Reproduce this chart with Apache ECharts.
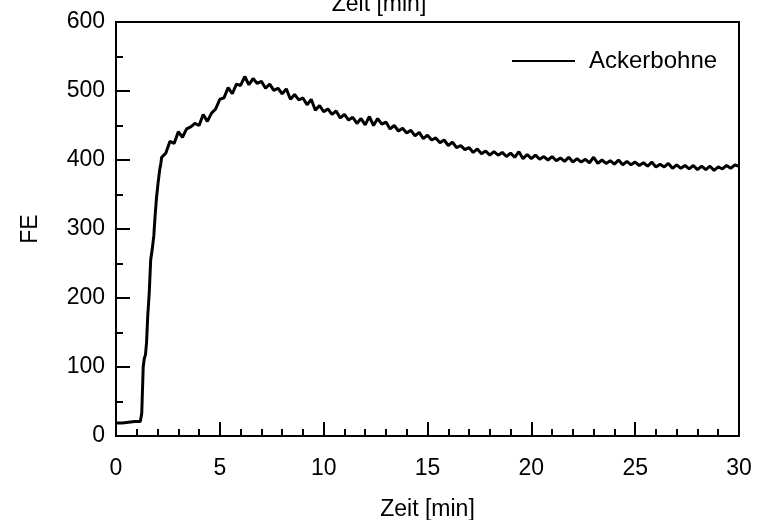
<!DOCTYPE html>
<html>
<head>
<meta charset="utf-8">
<script src="https://cdn.jsdelivr.net/npm/echarts@6/dist/echarts.min.js"></script>
<style>
  html, body { margin: 0; padding: 0; background: #fff; }
  #chart { width: 758px; height: 520px; }
</style>
</head>
<body>
<div id="chart"></div>
<script>
// Zeit [min]
var zeit = [
    0, 0.3, 0.6, 0.9, 1.17, 1.24, 1.31, 1.36, 1.42, 1.47, 1.53, 1.6, 1.67, 1.75, 1.82, 1.88, 1.95, 2.02, 2.1, 2.16,
    2.2, 2.4, 2.6, 2.8, 3.0, 3.2, 3.4, 3.6, 3.8, 4.0, 4.2, 4.4, 4.6, 4.8, 5.0, 5.2, 5.4, 5.6, 5.8, 6.0,
    6.2, 6.4, 6.6, 6.8, 7.0, 7.2, 7.4, 7.6, 7.8, 8.0, 8.2, 8.4, 8.6, 8.8, 9.0, 9.2, 9.4, 9.6, 9.8, 10.0,
    10.2, 10.4, 10.6, 10.8, 11.0, 11.2, 11.4, 11.6, 11.8, 12.0, 12.2, 12.4, 12.6, 12.8, 13.0, 13.2, 13.4, 13.6, 13.8, 14.0,
    14.2, 14.4, 14.6, 14.8, 15.0, 15.2, 15.4, 15.6, 15.8, 16.0, 16.2, 16.4, 16.6, 16.8, 17.0, 17.2, 17.4, 17.6, 17.8, 18.0,
    18.2, 18.4, 18.6, 18.8, 19.0, 19.2, 19.4, 19.6, 19.8, 20.0, 20.2, 20.4, 20.6, 20.8, 21.0, 21.2, 21.4, 21.6, 21.8, 22.0,
    22.2, 22.4, 22.6, 22.8, 23.0, 23.2, 23.4, 23.6, 23.8, 24.0, 24.2, 24.4, 24.6, 24.8, 25.0, 25.2, 25.4, 25.6, 25.8, 26.0,
    26.2, 26.4, 26.6, 26.8, 27.0, 27.2, 27.4, 27.6, 27.8, 28.0, 28.2, 28.4, 28.6, 28.8, 29.0, 29.2, 29.4, 29.6, 29.8, 30.0
]
// FE, Ackerbohne
var fe = [
    19, 19, 20, 21, 21, 33, 100, 112, 118, 135, 175, 207, 255, 272, 290, 318, 345, 365, 385, 395,
    404, 410, 427, 424, 441, 433, 445, 448, 453, 450, 466, 456, 468, 474, 488, 490, 505, 496, 510, 508,
    521, 509, 518, 511, 514, 504, 510, 501, 504, 496, 503, 488, 495, 487, 490, 480, 488, 472, 479, 470,
    474, 466, 471, 461, 466, 458, 462, 453, 460, 451, 463, 450, 460, 452, 455, 445, 450, 442, 446, 439,
    443, 435, 440, 431, 436, 429, 432, 425, 429, 421, 426, 418, 421, 415, 418, 411, 416, 409, 413, 407,
    412, 407, 411, 405, 410, 404, 412, 402, 408, 402, 407, 401, 405, 400, 405, 399, 403, 398, 404, 397,
    402, 397, 401, 396, 404, 395, 400, 395, 399, 394, 400, 393, 398, 393, 397, 392, 396, 391, 397, 390,
    394, 390, 395, 388, 393, 388, 392, 387, 392, 386, 391, 386, 391, 385, 390, 387, 392, 388, 393, 391
]
var xTicks = [0, 30, 5]
var yTicks = [0, 600, 100]

var font = 'Liberation Sans, Arial, sans-serif'

var pts = new Array()
for (var i = 0; i < zeit.length; i++) {
    pts.push([zeit[i], fe[i]])
}

var option = {
    animation: false,
    backgroundColor: '#fff',
    grid: {
        left: 116,
        right: 19,
        top: 22,
        bottom: 84,
        outerBoundsMode: 'none',
        show: true,
        borderColor: '#000',
        borderWidth: 2,
    },
    legend: {
        left: 506,
        top: 44,
        itemWidth: 63,
        itemHeight: 28,
        data: ['Ackerbohne'],
        itemStyle: { opacity: 0 },
        lineStyle: { width: 2 },
        textStyle: {
            color: '#000',
            fontSize: 24,
            fontFamily: font,
            padding: [0, 0, 0, 9],
        },
    },
    graphic: [{
        type: 'text',
        left: 'center',
        top: -7,
        style: {
            text: 'Zeit [min]',
            fill: '#000',
            fontSize: 23,
            fontFamily: font,
        }
    }],
    xAxis: {
        type: 'value',
        min: xTicks[0],
        max: xTicks[1],
        interval: xTicks[2],
        name: 'Zeit [min]',
        nameLocation: 'middle',
        nameGap: 62,
        nameTextStyle: { color: '#000', fontSize: 23, fontFamily: font },
        axisLine: { show: true, lineStyle: { color: '#000', width: 2 } },
        axisTick: { inside: true, length: 14, lineStyle: { color: '#000', width: 2 } },
        minorTick: { show: true, splitNumber: 5, length: 7, lineStyle: { color: '#000', width: 2 } },
        axisLabel: { color: '#000', fontSize: 23, fontFamily: font, margin: 21 },
        splitLine: { show: false },
    },
    yAxis: {
        type: 'value',
        min: yTicks[0],
        max: yTicks[1],
        interval: yTicks[2],
        name: 'FE',
        nameLocation: 'middle',
        nameGap: 74,
        nameTextStyle: { color: '#000', fontSize: 23, fontFamily: font },
        axisLine: { show: true, lineStyle: { color: '#000', width: 2 } },
        axisTick: { inside: true, length: 14, lineStyle: { color: '#000', width: 2 } },
        minorTick: { show: true, splitNumber: 2, length: 7, lineStyle: { color: '#000', width: 2 } },
        axisLabel: { color: '#000', fontSize: 23, fontFamily: font, margin: 11 },
        splitLine: { show: false },
    },
    series: [{
        name: 'Ackerbohne',
        type: 'line',
        data: pts,
        symbol: 'none',
        showSymbol: false,
        lineStyle: { color: '#000', width: 3 },
        itemStyle: { color: '#000' },
    }]
}

var myChart = echarts.init(document.getElementById('chart'))
myChart.setOption(option, true)
</script>
</body>
</html>
